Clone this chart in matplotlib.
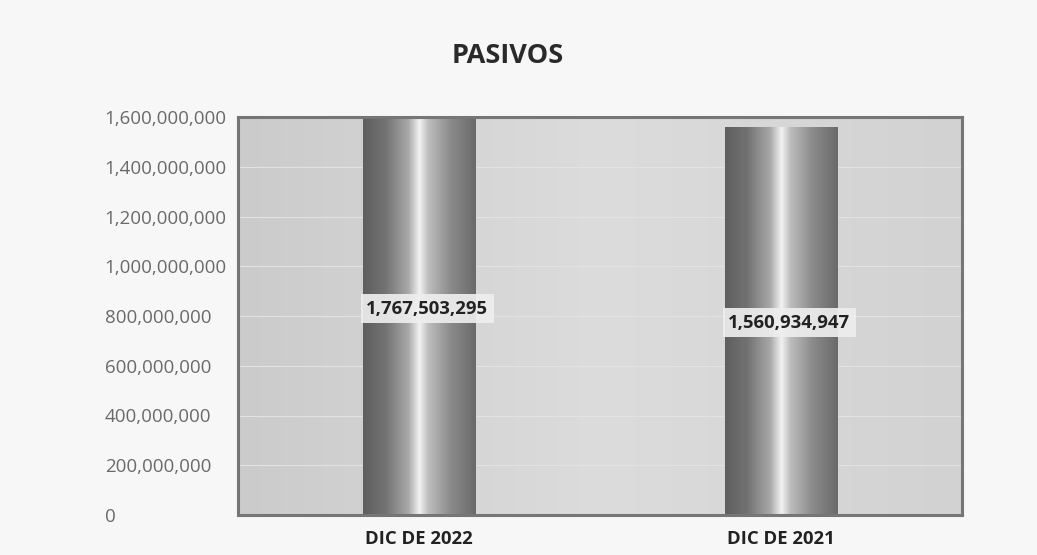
import numpy as np
import matplotlib
matplotlib.use("Agg")
import matplotlib.pyplot as plt
from matplotlib.ticker import FuncFormatter, MultipleLocator
from matplotlib.colors import LinearSegmentedColormap

categories = ["DIC DE 2022", "DIC DE 2021"]
values = [1767503295, 1560934947]
value_labels = ["1,767,503,295", "1,560,934,947"]
title = "PASIVOS"
y_max = 1600000000
y_step = 200000000

plt.rcParams['font.family'] = ['Open Sans', 'DejaVu Sans']

fig = plt.figure(figsize=(10.37, 5.55), dpi=100)
fig.patch.set_facecolor('#f7f7f7')
ax = fig.add_axes([238/1037, 1 - 515/555, (962-238)/1037, (515-117)/555])

ax.set_xlim(-0.5, len(categories) - 0.5)
ax.set_ylim(0, y_max)

# background gradient of plot area
bg = np.linspace(0, 1, 256).reshape(1, -1)
bg_cmap = LinearSegmentedColormap.from_list('bg', ['#cbcbcb', '#dcdcdc', '#d2d2d2'])
ax.imshow(bg, extent=[-0.5, len(categories) - 0.5, 0, y_max], aspect='auto',
          cmap=bg_cmap, zorder=0)

for y in np.arange(y_step, y_max, y_step):
    ax.axhline(y, color='#e2e2e2', lw=0.8, zorder=1)

bar_cmap = LinearSegmentedColormap.from_list('bar', [
    (0.0, '#5e5e5e'), (0.2, '#737373'), (0.4, '#a8a8a8'), (0.5, '#f2f2f2'),
    (0.58, '#bdbdbd'), (0.78, '#8a8a8a'), (1.0, '#6a6a6a')])
bar_w = 0.31
bars = ax.bar(range(len(categories)), values, width=bar_w, color='none', zorder=2)
grad = np.linspace(0, 1, 256).reshape(1, -1)
for b in bars:
    x0 = b.get_x()
    h = min(b.get_height(), y_max)
    im = ax.imshow(grad, extent=[x0, x0 + b.get_width(), 0, h], aspect='auto',
                   cmap=bar_cmap, zorder=2)
    im.set_clip_path(b)

offsets = [0.018, -0.005]
for i, (v, lab) in enumerate(zip(values, value_labels)):
    yy = min(v, y_max) * (0.5 + offsets[i])
    ax.annotate(lab, (i, yy), xytext=(6, 0), textcoords='offset points',
                ha='center', va='center', fontsize=13.3, fontweight='bold',
                color='#222222', zorder=4,
                bbox=dict(boxstyle='square,pad=0.3', fc='#eeeeee', ec='none', alpha=0.92))

for s in ax.spines.values():
    s.set_color('#767676')
    s.set_linewidth(2.2)

ax.yaxis.set_major_locator(MultipleLocator(y_step))
ax.yaxis.set_major_formatter(FuncFormatter(lambda v, p: f"{int(v):,}"))
ax.tick_params(axis='y', length=0, labelsize=13.5, labelcolor='#6a6a6a', pad=96)
for t in ax.get_yticklabels():
    t.set_horizontalalignment('left')
ax.set_xticks(range(len(categories)))
ax.set_xticklabels(categories, fontsize=13.3, fontweight='bold', color='#222222')
ax.tick_params(axis='x', length=0, pad=11)

fig.text(508/1037, 1 - 56/555, title, ha='center', va='center', fontsize=19.5,
         fontweight='bold', color='#2a2a2a')

fig.savefig('out.png', dpi=100, facecolor=fig.get_facecolor())
